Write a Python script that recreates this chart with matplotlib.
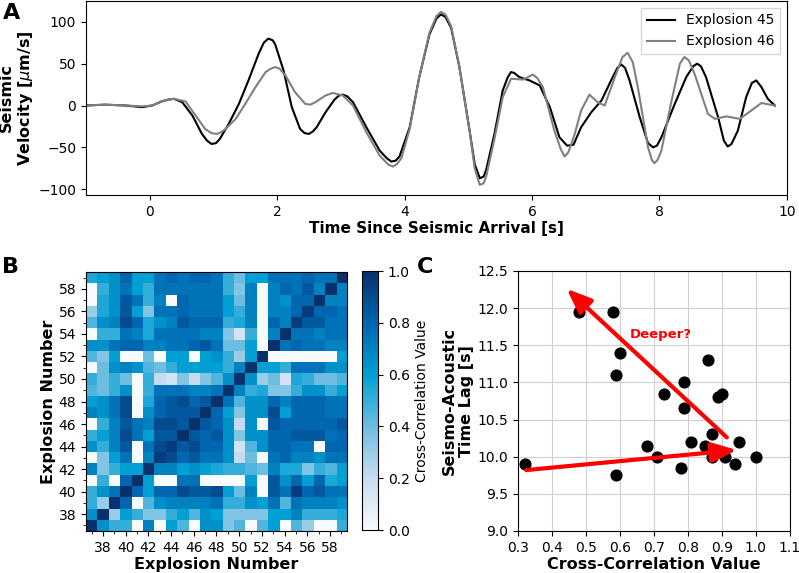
import numpy as np
import matplotlib
matplotlib.use("Agg")
import matplotlib.pyplot as plt
from matplotlib.colors import LinearSegmentedColormap
from matplotlib.ticker import MultipleLocator

# Panel A: waveforms
t45 = [-1.0, -0.7, -0.38, -0.12, 0.04, 0.19, 0.29, 0.38, 0.51, 0.67, 0.82, 0.90, 0.97, 1.04, 1.10,
       1.24, 1.40, 1.55, 1.71, 1.79, 1.86, 1.93, 1.97, 2.10, 2.23, 2.36, 2.43, 2.50, 2.56, 2.62,
       2.76, 2.90, 2.97, 3.03, 3.10, 3.19, 3.40, 3.61, 3.72, 3.79, 3.86, 3.92, 4.08, 4.23, 4.39, 4.50, 4.57,
       4.64, 4.73, 4.86, 5.02, 5.10, 5.18, 5.24, 5.28, 5.41, 5.54, 5.62, 5.67, 5.72, 5.80, 5.96,
       6.12, 6.28, 6.43, 6.55, 6.65, 6.77, 6.93, 7.09, 7.24, 7.34, 7.40, 7.46, 7.53, 7.69, 7.82, 7.90,
       7.96, 8.03, 8.24, 8.42, 8.53, 8.59, 8.65, 8.73, 8.92, 9.01, 9.07, 9.13, 9.23, 9.36, 9.45, 9.52,
       9.60, 9.70, 9.81]
v45 = [0, 1, 0, -2, 0, 5, 7, 8, 4, -12, -34, -42, -46, -45, -40,
       -22, 2, 30, 62, 75, 80, 78, 73, 42, -2, -28, -33, -34, -31, -26,
       -8, 7, 12, 13, 11, 4, -26, -54, -63, -67, -66, -61, -26, 34, 85, 104, 109,
       106, 93, 46, -30, -70, -87, -85, -77, -34, 18, 34, 40, 39, 34, 30,
       24, -2, -38, -48, -47, -26, -8, 6, 30, 45, 49, 45, 30, -14, -45, -50,
       -48, -38, 2, 34, 47, 50, 47, 34, -14, -42, -49, -46, -30, 10, 27, 30,
       22, 8, 0]

t46 = [-1.0, -0.7, -0.38, -0.12, 0.04, 0.19, 0.29, 0.38, 0.56, 0.72, 0.87, 0.97, 1.05, 1.12, 1.19,
       1.35, 1.50, 1.66, 1.82, 1.90, 1.97, 2.04, 2.13, 2.28, 2.44, 2.52, 2.60, 2.76, 2.87, 3.03, 3.19,
       3.40, 3.61, 3.75, 3.82, 3.88, 3.95, 4.08, 4.23, 4.39, 4.50, 4.57, 4.64, 4.73, 4.86, 5.02,
       5.10, 5.18, 5.24, 5.28, 5.41, 5.54, 5.67, 5.86, 5.94, 6.01, 6.08, 6.17, 6.35, 6.45, 6.51, 6.57,
       6.67, 6.77, 6.90, 7.03, 7.14, 7.30, 7.42, 7.50, 7.58, 7.66, 7.82, 7.88, 7.92, 7.97, 8.03,
       8.19, 8.32, 8.39, 8.46, 8.55, 8.76, 8.87, 9.05, 9.26, 9.44, 9.60, 9.81]
v46 = [0, 1, 0, -1, 0, 5, 7, 8, 5, -12, -28, -33, -34, -32, -28,
       -16, 2, 22, 40, 44, 46, 44, 36, 16, 2, 1, 4, 12, 15, 12, 0,
       -32, -60, -71, -73, -70, -63, -28, 34, 87, 107, 112, 109, 95, 46, -30,
       -75, -95, -93, -85, -40, 10, 32, 31, 34, 37, 33, 22, -30, -52, -61, -56,
       -34, -6, 13, 4, 0, 34, 58, 63, 52, 22, -50, -65, -69, -65, -54,
       6, 50, 58, 54, 38, -10, -16, -13, -16, -6, 3, 0]

# Panel B: cross-correlation matrix, rows/cols = explosions 37..59
explosions = list(range(37, 60))
r37 = [1.0, 0.65, 0.5, 0.5, 0, 0.7, 0, 0.6, 0.45, 0, 0.65, 0.65, 0.35, 0.45, 0, 0.45, 0.6, 0, 0.45, 0.3, 0, 0, 0.5]
r38 = [0.65, 1.0, 0.3, 0.6, 0.5, 0.35, 0.35, 0.5, 0.6, 0.45, 0.65, 0.6, 0.35, 0.35, 0.35, 0.35, 0.6, 0.6, 0.7, 0.5, 0.5, 0.5, 0.55]
r39 = [0.5, 0.3, 1.0, 0.8, 0, 0.45, 0.65, 0.7, 0.7, 0.7, 0.7, 0.75, 0.5, 0.5, 0.65, 0.6, 0.75, 0.45, 0.75, 0.7, 0.7, 0.7, 0.65]
r40 = [0.5, 0.65, 0.75, 1.0, 0.8, 0.6, 0.8, 0.8, 0.9, 0.85, 0.85, 0.9, 0.6, 0.4, 0.7, 0, 0.85, 0.75, 0.95, 0.8, 0.85, 0.75, 0.75]
r41 = [0, 0.5, 0, 0.8, 1.0, 0.6, 0, 0, 0.75, 0.75, 0, 0, 0, 0, 0.6, 0, 0.85, 0.65, 0.8, 0.6, 0.8, 0.55, 0.6]
r42 = [0.7, 0.35, 0.5, 0.6, 0.6, 1.0, 0.7, 0.7, 0.6, 0.65, 0.6, 0.55, 0.5, 0.5, 0.45, 0.4, 0.7, 0.55, 0.55, 0.35, 0.5, 0.45, 0.6]
r43 = [0, 0.35, 0.6, 0.75, 0, 0.7, 0.95, 0.9, 0.8, 0.85, 0.75, 0.75, 0.65, 0.2, 0.4, 0, 0.75, 0.8, 0.7, 0.7, 0.65, 0.75, 0.75]
r44 = [0.65, 0.5, 0.7, 0.85, 0, 0.75, 0.9, 0.95, 0.85, 0.9, 0.8, 0.8, 0.65, 0.15, 0.45, 0.65, 0.8, 0.8, 0.75, 0.75, 0, 0.8, 0.8]
r45 = [0.5, 0.6, 0.7, 0.9, 0.75, 0.6, 0.85, 0.85, 1.0, 0.85, 0.8, 0.85, 0.65, 0.35, 0.65, 0.65, 0.8, 0.8, 0.85, 0.85, 0.85, 0.75, 0.8]
r46 = [0, 0.5, 0.7, 0.85, 0.75, 0.7, 0.9, 0.9, 0.85, 1.0, 0.85, 0.8, 0.65, 0.2, 0.65, 0, 0.85, 0.8, 0.8, 0.8, 0.8, 0.8, 0.85]
r47 = [0.7, 0.65, 0.75, 0.9, 0, 0.65, 0.8, 0.85, 0.85, 0.85, 1.0, 0.8, 0.6, 0.35, 0.65, 0.65, 0.9, 0.6, 0.8, 0.8, 0.8, 0.75, 0.75]
r48 = [0.6, 0.65, 0.75, 0.9, 0, 0.55, 0.8, 0.85, 0.9, 0.8, 0.85, 1.0, 0.75, 0.45, 0.65, 0.65, 0.8, 0.7, 0.8, 0.8, 0.8, 0.75, 0.75]
r49 = [0.45, 0.4, 0.5, 0.65, 0, 0.5, 0.75, 0.75, 0.75, 0.7, 0.7, 0.75, 1.0, 0.7, 0.5, 0.55, 0.35, 0.35, 0.5, 0.65, 0.65, 0.5, 0.6]
r50 = [0.5, 0.4, 0.5, 0.4, 0, 0.5, 0.2, 0.15, 0.35, 0.2, 0.35, 0.45, 0.65, 1.0, 0.65, 0.3, 0.4, 0.15, 0.55, 0.5, 0.4, 0.4, 0.45]
r51 = [0, 0.4, 0.65, 0.7, 0.65, 0.45, 0.4, 0.5, 0.6, 0.6, 0.6, 0.6, 0.5, 0.7, 1.0, 0.6, 0.6, 0.5, 0.75, 0.75, 0.75, 0.65, 0.65]
r52 = [0.45, 0.35, 0.6, 0, 0, 0.4, 0, 0.6, 0.6, 0, 0.6, 0.65, 0.5, 0.3, 0.6, 1.0, 0, 0, 0, 0, 0, 0, 0.6]
r53 = [0.65, 0.65, 0.75, 0.8, 0.8, 0.7, 0.7, 0.75, 0.75, 0.8, 0.85, 0.75, 0.4, 0.4, 0.6, 0, 1.0, 0.75, 0.8, 0.75, 0.75, 0.7, 0.7]
r54 = [0, 0.5, 0.5, 0.75, 0.7, 0.55, 0.75, 0.75, 0.75, 0.75, 0.7, 0.7, 0.35, 0.15, 0.5, 0, 0.7, 1.0, 0.75, 0.75, 0.7, 0.75, 0.75]
r55 = [0.45, 0.65, 0.7, 0.9, 0.8, 0.55, 0.65, 0.7, 0.85, 0.8, 0.8, 0.8, 0.5, 0.55, 0.7, 0, 0.8, 0.7, 0.95, 0.85, 0.85, 0.75, 0.75]
r56 = [0.3, 0.55, 0.65, 0.85, 0.6, 0.35, 0.75, 0.75, 0.8, 0.75, 0.75, 0.75, 0.6, 0.5, 0.7, 0, 0.7, 0.7, 0.8, 0.95, 0.8, 0.8, 0.75]
r57 = [0, 0.55, 0.65, 0.85, 0.75, 0.5, 0.7, 0, 0.8, 0.75, 0.75, 0.75, 0.6, 0.4, 0.7, 0, 0.7, 0.65, 0.8, 0.8, 1.0, 0.7, 0.7]
r58 = [0, 0.5, 0.65, 0.75, 0.6, 0.5, 0.75, 0.75, 0.75, 0.75, 0.75, 0.75, 0.5, 0.35, 0.7, 0, 0.7, 0.8, 0.75, 0.85, 0.7, 1.0, 0.7]
r59 = [0.55, 0.6, 0.65, 0.8, 0.6, 0.6, 0.75, 0.8, 0.75, 0.8, 0.8, 0.75, 0.5, 0.4, 0.6, 0.6, 0.75, 0.75, 0.75, 0.8, 0.75, 0.75, 1.0]
corr_rows = [r37, r38, r39, r40, r41, r42, r43, r44, r45, r46, r47, r48,
             r49, r50, r51, r52, r53, r54, r55, r56, r57, r58, r59]

# Panel C: cross-correlation vs time lag
cc_value = [0.32, 0.48, 0.58, 0.60, 0.59, 0.59, 0.68, 0.71, 0.73, 0.79, 0.79, 0.78,
            0.81, 0.86, 0.85, 0.87, 0.87, 0.89, 0.90, 0.91, 0.95, 0.94, 1.00]
time_lag = [9.90, 11.95, 11.95, 11.40, 11.10, 9.75, 10.15, 10.00, 10.85, 11.00, 10.65, 9.85,
            10.20, 11.30, 10.15, 10.30, 10.00, 10.80, 10.85, 10.00, 10.20, 9.90, 10.00]

fig = plt.figure(figsize=(7.99, 5.73), dpi=100)

# ---- A ----
axA = fig.add_axes([0.1076, 0.6597, 0.8773, 0.3386])
axA.plot(t45, v45, color='black', lw=1.5, label='Explosion 45')
axA.plot(t46, v46, color='gray', lw=1.5, label='Explosion 46')
axA.set_xlim(-1, 10)
axA.set_ylim(-107, 125)
axA.set_yticks([-100, -50, 0, 50, 100])
axA.tick_params(labelsize=10)
axA.set_xlabel('Time Since Seismic Arrival [s]', fontsize=11, fontweight='bold', labelpad=2)
axA.set_ylabel('Seismic\nVelocity [$\\mu$m/s]', fontsize=11.5, fontweight='bold', labelpad=2)
axA.legend(loc='upper right', fontsize=10, fancybox=False)
fig.text(0.003, 0.995, 'A', fontsize=16, fontweight='bold', va='top')

# ---- B ----
cmap = LinearSegmentedColormap.from_list('xc', [
    (0.0, '#f7fbff'), (0.2, '#c6dbef'), (0.4, '#6cbde0'),
    (0.6, '#00a0d4'), (0.8, '#0066b0'), (1.0, '#08306b')])
axB = fig.add_axes([0.1076, 0.0733, 0.3267, 0.452])
corr = np.array(corr_rows)
lo, hi = explosions[0] - 0.5, explosions[-1] + 0.5
im = axB.imshow(corr, cmap=cmap, vmin=0, vmax=1, origin='lower',
                extent=(lo, hi, lo, hi), aspect='auto', interpolation='nearest')
axB.set_xticks(range(38, 59, 2))
axB.set_yticks(range(38, 59, 2))
axB.xaxis.set_minor_locator(MultipleLocator(1))
axB.yaxis.set_minor_locator(MultipleLocator(1))
axB.tick_params(labelsize=10)
axB.set_xlabel('Explosion Number', fontsize=11.5, fontweight='bold', labelpad=2)
axB.set_ylabel('Explosion Number', fontsize=11.5, fontweight='bold', labelpad=2)
cax = fig.add_axes([0.4531, 0.075, 0.02, 0.452])
cb = fig.colorbar(im, cax=cax, ticks=[0, 0.2, 0.4, 0.6, 0.8, 1.0])
cb.ax.tick_params(labelsize=10)
cb.set_label('Cross-Correlation Value', fontsize=10)
fig.text(0.003, 0.552, 'B', fontsize=16, fontweight='bold', va='top')

# ---- C ----
axC = fig.add_axes([0.648, 0.0733, 0.3404, 0.4538])
axC.grid(True, color='#d0d0d0', lw=0.8)
axC.set_axisbelow(True)
axC.scatter(cc_value, time_lag, s=60, color='black', zorder=3)
arrow = dict(arrowstyle='-|>,head_length=0.75,head_width=0.3', color='red', lw=3,
             mutation_scale=20, shrinkA=0, shrinkB=0)
axC.annotate('', xy=(0.444, 12.26), xytext=(0.915, 10.26), arrowprops=arrow, zorder=4)
axC.annotate('', xy=(0.944, 10.09), xytext=(0.325, 9.82), arrowprops=arrow, zorder=4)
axC.text(0.72, 11.64, 'Deeper?', color='red', fontsize=9.5, fontweight='bold',
         ha='center', va='center')
axC.set_xlim(0.3, 1.1)
axC.set_ylim(9.0, 12.5)
axC.set_xticks(np.arange(0.3, 1.11, 0.1))
axC.set_yticks(np.arange(9.0, 12.51, 0.5))
axC.xaxis.set_major_formatter('{x:.1f}')
axC.yaxis.set_major_formatter('{x:.1f}')
axC.tick_params(labelsize=10)
axC.set_xlabel('Cross-Correlation Value', fontsize=11.5, fontweight='bold', labelpad=2)
axC.set_ylabel('Seismo-Acoustic\nTime Lag [s]', fontsize=11.5, fontweight='bold', labelpad=2)
fig.text(0.522, 0.552, 'C', fontsize=16, fontweight='bold', va='top')

fig.savefig('out.png', dpi=100)
